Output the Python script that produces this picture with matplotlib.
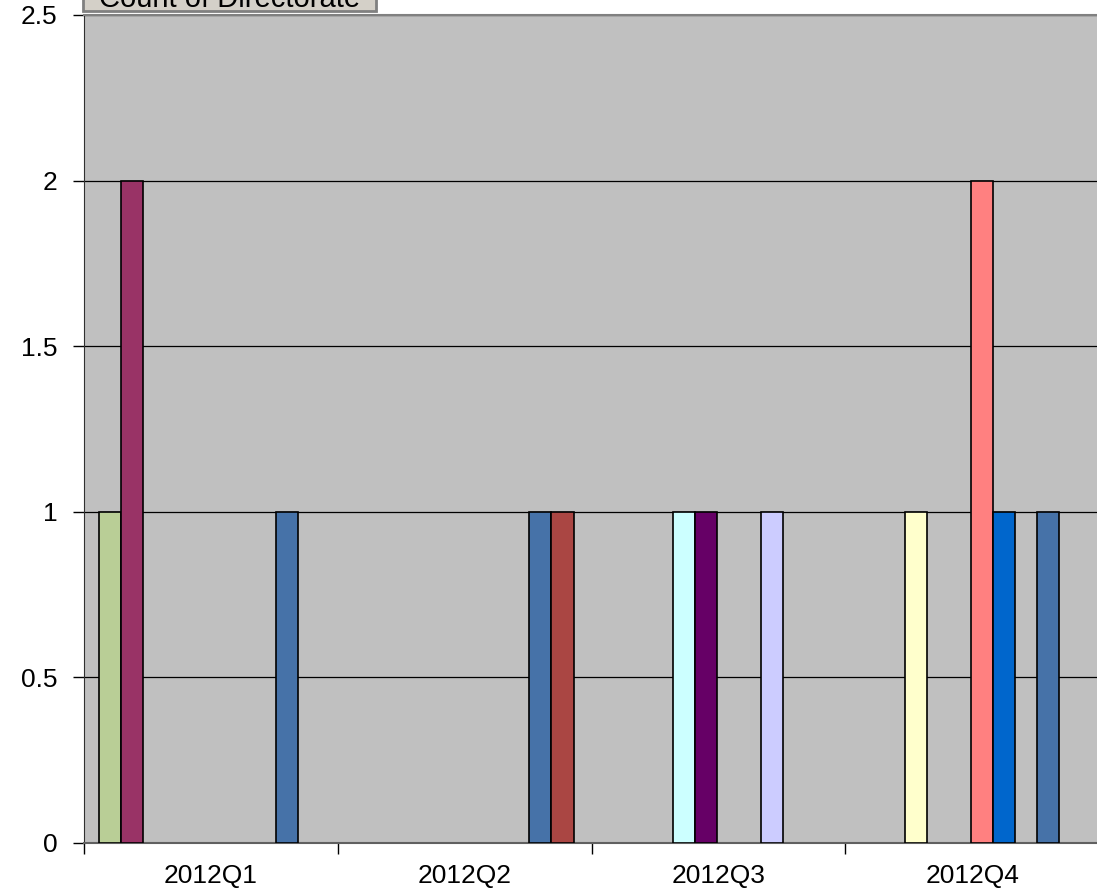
import numpy as np
import matplotlib
matplotlib.use("Agg")
import matplotlib.pyplot as plt
from matplotlib.patches import Rectangle

plt.rcParams['font.family'] = ['Liberation Sans', 'DejaVu Sans']

quarters = ['2012Q1', '2012Q2', '2012Q3', '2012Q4']

# one series per directorate (legend hidden in the original), counts per quarter
s0 = [1, 0, 0, 0]
s1 = [2, 0, 0, 0]
s2 = [0, 0, 0, 1]
s3 = [0, 0, 1, 0]
s4 = [0, 0, 1, 0]
s5 = [0, 0, 0, 2]
s6 = [0, 0, 0, 1]
s7 = [0, 0, 1, 0]
s8 = [1, 1, 0, 1]
s9 = [0, 1, 0, 0]
series = [s0, s1, s2, s3, s4, s5, s6, s7, s8, s9]
colors = ['#B9CE96', '#993366', '#FFFFCC', '#CCFFFF', '#660066',
          '#FF8080', '#0066CC', '#CCCCFF', '#4672A8', '#AA4643']

fig = plt.figure(figsize=(10.97, 8.91), dpi=100)
ax = fig.add_axes([84/1097, 48/891, 1 - 84/1097 + 0.002, 828/891])
ax.set_facecolor('#C0C0C0')

x = np.arange(len(quarters))
w = 0.087
start = 0.059 - 0.5
for k, (vals, c) in enumerate(zip(series, colors)):
    vals = np.array(vals, dtype=float)
    m = vals > 0
    ax.bar(x[m] + start + k * w, vals[m], width=w, align='edge',
           color=c, edgecolor='black', linewidth=1.2, zorder=3)

ax.set_xlim(-0.5, 3.5)
ax.set_ylim(0, 2.5)
ax.set_yticks(np.arange(0, 2.51, 0.5))
ax.set_yticklabels(['0', '0.5', '1', '1.5', '2', '2.5'])
ax.yaxis.grid(True, color='black', linewidth=0.9, zorder=1)
ax.set_axisbelow(True)

ax.set_xticks(x)
ax.set_xticklabels(quarters)
ax.set_xticks([-0.5, 0.5, 1.5, 2.5, 3.5], minor=True)
ax.tick_params(axis='x', which='major', length=0, pad=15, labelsize=19)
ax.tick_params(axis='x', which='minor', length=8, width=1, color='black')
ax.tick_params(axis='y', length=8, width=1, pad=11, labelsize=19)

ax.spines['right'].set_visible(False)
ax.spines['top'].set_color('#808080')
ax.spines['top'].set_linewidth(1.5)
ax.spines['left'].set_color('#303030')
ax.spines['bottom'].set_color('#606060')
ax.spines['bottom'].set_linewidth(1.5)

# pivot field button, cut off at the top of the image
fig.patches.append(Rectangle((83/1097, 1 - 11/891), (376 - 83)/1097, 30/891,
                             transform=fig.transFigure, facecolor='#D4D0C8',
                             edgecolor='#808080', linewidth=2, zorder=5))
fig.text((83 + 376)/2/1097, 1 - 7/891, 'Count of Directorate', ha='center',
         va='baseline', fontsize=21, zorder=6)

fig.savefig('out.png', dpi=100)
